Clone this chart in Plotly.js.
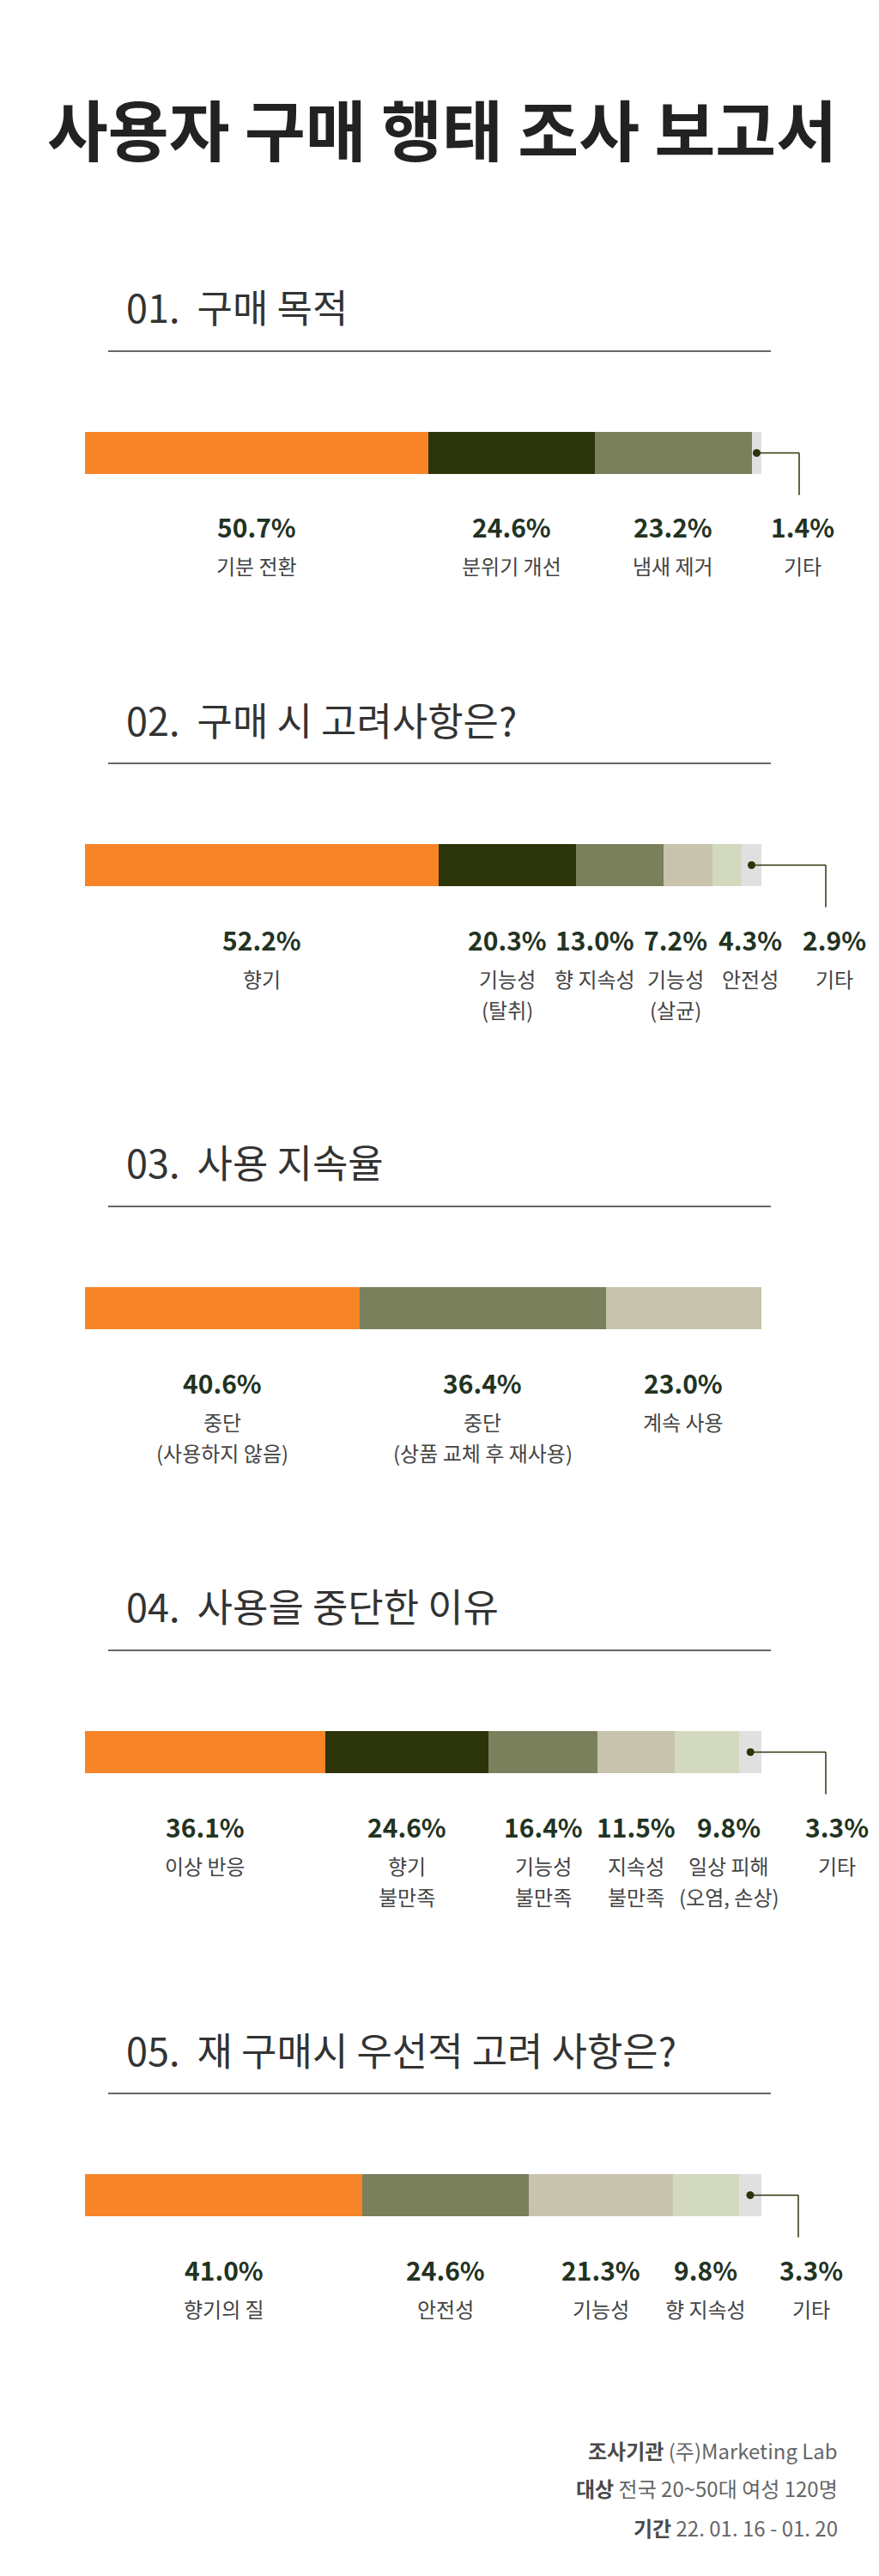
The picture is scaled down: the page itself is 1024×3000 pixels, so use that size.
<!DOCTYPE html>
<html>
<head>
<meta charset="utf-8">
<script src="https://cdn.plot.ly/plotly-3.0.1.min.js"></script>
<style>
html,body{margin:0;padding:0;background:#ffffff;}
#chart{width:1024px;height:3000px;}
</style>
</head>
<body>
<div id="chart"></div>
<script>
// ---------------- DATA ----------------
const reportTitle = '사용자 구매 행태 조사 보고서';
const sectionTitles = [
  '01.  구매 목적',
  '02.  구매 시 고려사항은?',
  '03.  사용 지속율',
  '04.  사용을 중단한 이유',
  '05.  재 구매시 우선적 고려 사항은?'
];

const q1Labels = ['기분 전환', '분위기 개선', '냄새 제거', '기타'];
const q1Values = [50.7, 24.6, 23.2, 1.4];

const q2Labels = ['향기', '기능성<br>(탈취)', '향 지속성', '기능성<br>(살균)', '안전성', '기타'];
const q2Values = [52.2, 20.3, 13.0, 7.2, 4.3, 2.9];

const q3Labels = ['중단<br>(사용하지 않음)', '중단<br>(상품 교체 후 재사용)', '계속 사용'];
const q3Values = [40.6, 36.4, 23.0];

const q4Labels = ['이상 반응', '향기<br>불만족', '기능성<br>불만족', '지속성<br>불만족', '일상 피해<br>(오염, 손상)', '기타'];
const q4Values = [36.1, 24.6, 16.4, 11.5, 9.8, 3.3];

const q5Labels = ['향기의 질', '안전성', '기능성', '향 지속성', '기타'];
const q5Values = [41.0, 24.6, 21.3, 9.8, 3.3];

const footerKeys = ['조사기관', '대상', '기간'];
const footerTexts = ['(주)Marketing Lab', '전국 20~50대 여성 120명', '22. 01. 16 - 01. 20'];

// ---------------- STYLE / LAYOUT ----------------
const C = {
  orange: '#F78427', dark: '#2C3409', olive: '#7A7F5C',
  beige: '#C8C3AD', light: '#D3D9BE', gray: '#E0E0E0'
};
const W = 1024, H = 3000, BAR_L = 99, BAR_R = 887, BAR_H = 49;
const FONT = '"Noto Sans CJK KR", "Noto Sans", sans-serif';

const sections = [
  {labels: q1Labels, values: q1Values, colors: [C.orange, C.dark, C.olive, C.gray],
   nudge: [0, 0, 0, 0], other: true, leaderX: 931, otherX: 935, headerY: 356, lineY: 409, barY: 527.5},
  {labels: q2Labels, values: q2Values, colors: [C.orange, C.dark, C.olive, C.beige, C.light, C.gray],
   nudge: [0, 0, -29, -15, 27, 0], other: true, leaderX: 962, otherX: 972, headerY: 837, lineY: 889, barY: 1007.5},
  {labels: q3Labels, values: q3Values, colors: [C.orange, C.olive, C.beige],
   nudge: [0, 0, 0], other: false, headerY: 1352, lineY: 1405, barY: 1523.5},
  {labels: q4Labels, values: q4Values, colors: [C.orange, C.dark, C.olive, C.beige, C.light, C.gray],
   nudge: [0, 0, 0, 0, 26, 0], other: true, leaderX: 962, otherX: 975, headerY: 1869, lineY: 1922, barY: 2040.5},
  {labels: q5Labels, values: q5Values, colors: [C.orange, C.olive, C.beige, C.light, C.gray],
   nudge: [0, 0, 0, 0, 0], other: true, leaderX: 930, otherX: 945, headerY: 2386, lineY: 2438, barY: 2556.5}
];

const traces = [];
const annotations = [];
const shapes = [];
const layout = {
  width: W, height: H,
  margin: {l: 0, r: 0, t: 0, b: 0},
  paper_bgcolor: '#ffffff', plot_bgcolor: 'rgba(0,0,0,0)',
  barmode: 'stack', showlegend: false,
  font: {family: FONT},
  hovermode: false
};

// Report title
annotations.push({
  xref: 'paper', yref: 'paper', x: 515 / W, y: 1 - 149 / H,
  xanchor: 'center', yanchor: 'middle', showarrow: false,
  text: reportTitle,
  font: {family: FONT, size: 77, color: '#222222', weight: 700}
});

sections.forEach((s, i) => {
  const k = i + 1;
  const xa = 'x' + k, ya = 'y' + k;
  const total = s.values.reduce((a, b) => a + b, 0);
  const ppu = (BAR_R - BAR_L) / total;
  const toData = px => (px - BAR_L) / ppu;

  layout['xaxis' + k] = {
    domain: [0, 1], range: [toData(0), toData(W)], visible: false,
    fixedrange: true, anchor: ya
  };
  layout['yaxis' + k] = {
    domain: [1 - (s.barY + 190) / H, 1 - (s.barY - 30) / H], range: [-190, 30],
    visible: false, fixedrange: true, anchor: xa
  };

  // header + divider
  annotations.push({
    xref: 'paper', yref: 'paper', x: 145 / W, y: 1 - s.headerY / H,
    xanchor: 'left', yanchor: 'middle', showarrow: false,
    text: sectionTitles[i],
    font: {family: FONT, size: 45, color: '#333333', weight: 400}
  });
  shapes.push({
    type: 'line', xref: 'paper', yref: 'paper',
    x0: 126 / W, x1: 898 / W, y0: 1 - s.lineY / H, y1: 1 - s.lineY / H,
    line: {color: '#333333', width: 1.5}
  });

  let cum = 0;
  s.values.forEach((v, j) => {
    traces.push({
      type: 'bar', orientation: 'h', x: [v], y: [0], width: [BAR_H],
      marker: {color: s.colors[j], line: {width: 0}},
      xaxis: xa, yaxis: ya, hoverinfo: 'skip'
    });
    const center = cum + v / 2;
    cum += v;
    const isOther = s.other && j === s.values.length - 1;
    const lx = isOther ? toData(s.otherX) : center;
    const shift = isOther ? 0 : s.nudge[j];

    annotations.push({
      xref: xa, yref: ya, x: lx, y: -86, xshift: shift,
      xanchor: 'center', yanchor: 'middle', showarrow: false,
      text: v.toFixed(1) + '%',
      font: {family: FONT, size: 30, color: '#223322', weight: 700}
    });
    s.labels[j].split('<br>').forEach((line, li) => {
      annotations.push({
        xref: xa, yref: ya, x: lx, y: -131.5 - 36 * li, xshift: shift,
        xanchor: 'center', yanchor: 'middle', showarrow: false,
        text: line,
        font: {family: FONT, size: 24, color: '#444444'}
      });
    });

    if (isOther) {
      const lxd = toData(s.leaderX);
      shapes.push({type: 'line', xref: xa, yref: ya, x0: center, x1: lxd, y0: 0, y1: 0,
        line: {color: C.dark, width: 1.5}});
      shapes.push({type: 'line', xref: xa, yref: ya, x0: lxd, x1: lxd, y0: 0, y1: -49,
        line: {color: C.dark, width: 1.5}});
      traces.push({
        type: 'scatter', mode: 'markers', x: [center], y: [0],
        marker: {size: 9, color: C.dark}, xaxis: xa, yaxis: ya, hoverinfo: 'skip'
      });
    }
  });
});

// footer
const footerY = [2853, 2897, 2943];
footerKeys.forEach((key, i) => {
  annotations.push({
    xref: 'paper', yref: 'paper', x: 978 / W, y: 1 - footerY[i] / H,
    xanchor: 'right', yanchor: 'middle', showarrow: false,
    text: '<span style="color:#4a4a4a"><b>' + key + '</b></span> ' + footerTexts[i],
    font: {family: FONT, size: 24, color: '#666666'}
  });
});

layout.annotations = annotations;
layout.shapes = shapes;

Plotly.newPlot('chart', traces, layout, {displayModeBar: false, staticPlot: true});
</script>
</body>
</html>
